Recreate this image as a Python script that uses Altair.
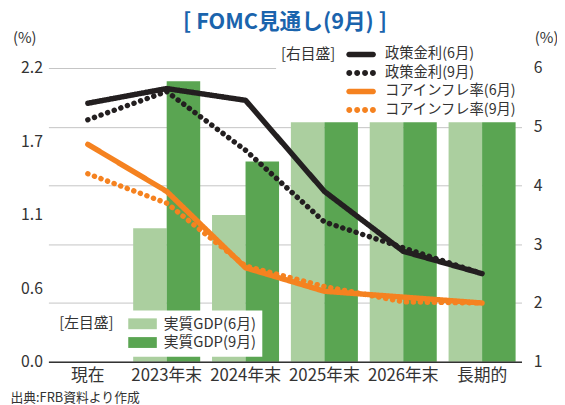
import altair as alt
import pandas as pd

categories = ["現在", "2023年末", "2024年末", "2025年末", "2026年末", "長期的"]

gdp_series = ["実質GDP(6月)", "実質GDP(9月)"]
gdp_jun = [None, 1.0, 1.1, 1.8, 1.8, 1.8]
gdp_sep = [None, 2.1, 1.5, 1.8, 1.8, 1.8]

line_series = ["政策金利(6月)", "政策金利(9月)", "コアインフレ率(6月)", "コアインフレ率(9月)"]
rate_jun = [5.4, 5.65, 5.45, 3.9, 2.88, 2.5]
rate_sep = [5.12, 5.6, 4.6, 3.38, 2.94, 2.5]
core_jun = [4.7, 3.9, 2.6, 2.2, 2.1, 2.0]
core_sep = [4.2, 3.7, 2.63, 2.28, 2.02, 2.0]

left_tick_values = [0, 0.55, 1.1, 1.65, 2.2]
left_tick_labels = ["0.0", "0.6", "1.1", "1.7", "2.2"]
right_tick_values = [1, 2, 3, 4, 5, 6]

BLACK = "#231f20"
ORANGE = "#f58220"
LIGHT_GREEN = "#abcf9f"
DARK_GREEN = "#5aa552"
TEXT = "#333333"
CLEAR = "transparent"
FONT = "Noto Sans CJK JP"

bar_rows = []
for s, vals in zip(gdp_series, [gdp_jun, gdp_sep]):
    for c, v in zip(categories, vals):
        if v is not None:
            bar_rows.append({"cat": c, "series": s, "value": v})
bar_df = pd.DataFrame(bar_rows)

line_rows = []
for s, vals in zip(line_series, [rate_jun, rate_sep, core_jun, core_sep]):
    for c, v in zip(categories, vals):
        line_rows.append({"cat": c, "series": s, "series_b": s, "value": v})
line_df = pd.DataFrame(line_rows)

label_expr = "''"
for v, lab in reversed(list(zip(left_tick_values, left_tick_labels))):
    label_expr = f"abs(datum.value - {v}) < 0.01 ? '{lab}' : ({label_expr})"


# ---- legend symbol shapes (units of r = sqrt(symbolSize)/2 = 6px) ----
def solid_path(h=0.458, x0=-1.0, x1=4.0):
    a, b = x0 + h, x1 - h
    return (f"M{a:.3f},{-h}H{b:.3f}A{h},{h} 0 0 1 {b:.3f},{h}"
            f"H{a:.3f}A{h},{h} 0 0 1 {a:.3f},{-h}Z")


def dots_path(n, r=0.5, x0=-1.0, x1=4.0):
    c0, c1 = x0 + r, x1 - r
    parts = []
    for i in range(n):
        c = c0 + (c1 - c0) * i / (n - 1)
        parts.append(f"M{c - r:.3f},0A{r},{r} 0 1 0 {c + r:.3f},0"
                     f"A{r},{r} 0 1 0 {c - r:.3f},0Z")
    return "".join(parts)


x_axis = alt.Axis(
    title="出典:FRB資料より作成", labelAngle=0, labelFontSize=17, labelColor=TEXT,
    labelPadding=6, ticks=False, domainColor=TEXT, domainWidth=1.5,
    titleX=-39, titleY=36, titleAlign="left", titleBaseline="middle",
    titleFontSize=13, titleFontWeight="normal", titleColor=TEXT, zindex=1,
)

bars = alt.Chart(bar_df).mark_bar().encode(
    x=alt.X("cat:N", sort=categories,
            scale=alt.Scale(paddingInner=0.15, paddingOuter=0.075), axis=x_axis),
    xOffset=alt.XOffset("series:N", sort=gdp_series,
                        scale=alt.Scale(paddingInner=0, paddingOuter=0)),
    y=alt.Y("value:Q", scale=alt.Scale(domain=[0, 2.2], nice=False, zero=True),
            axis=alt.Axis(orient="left", values=left_tick_values, labelExpr=label_expr,
                          grid=False, ticks=False, domain=False, labelFontSize=16,
                          labelColor=TEXT, labelPadding=6, title="(%)", titleAngle=0,
                          titleX=-24.5, titleY=-31, titleAlign="center",
                          titleBaseline="middle", titleFontSize=15,
                          titleFontWeight="normal", titleColor=TEXT)),
    color=alt.Color("series:N", sort=gdp_series,
                    scale=alt.Scale(domain=gdp_series, range=[LIGHT_GREEN, DARK_GREEN]),
                    legend=alt.Legend(
                        title="[左目盛]", orient="none", legendX=5, legendY=246,
                        titleOrient="left", titleAnchor="start", titleFontSize=15,
                        titleFontWeight="normal", titleColor=TEXT, titlePadding=12,
                        labelFontSize=15, labelColor=TEXT, labelOffset=23,
                        symbolType="M-1,-1H4.27V1H-1Z", symbolSize=121,
                        symbolStrokeWidth=0, symbolOpacity=1, fillColor="white",
                        padding=6, rowPadding=3)),
)

y_right = alt.Y("value:Q", scale=alt.Scale(domain=[1, 6], nice=False, zero=False),
                axis=alt.Axis(orient="right", values=right_tick_values, format="d",
                              grid=True, gridColor="#c4c4c4", gridWidth=1, ticks=False,
                              domain=False, labelFontSize=16, labelColor=TEXT,
                              labelPadding=12, title="(%)", titleAngle=0, titleX=25,
                              titleY=-31, titleAlign="center", titleBaseline="middle",
                              titleFontSize=15, titleFontWeight="normal", titleColor=TEXT))

lines = alt.Chart(line_df).mark_line(strokeCap="round", strokeJoin="round").encode(
    x=alt.X("cat:N", sort=categories),
    y=y_right,
    stroke=alt.Stroke("series:N", sort=line_series,
                      scale=alt.Scale(domain=line_series, range=[BLACK, BLACK, ORANGE, ORANGE]),
                      legend=None),
    strokeDash=alt.StrokeDash("series:N", sort=line_series,
                              scale=alt.Scale(domain=line_series,
                                              range=[[1, 0], [0.1, 7], [1, 0], [0.1, 7]]),
                              legend=None),
    strokeWidth=alt.StrokeWidth("series:N", sort=line_series,
                                scale=alt.Scale(domain=line_series, range=[5.5, 5.5, 4.5, 4.5]),
                                legend=None),
    order=alt.Order("series:N"),
)

legend_common = dict(
    title="[右目盛]", orient="none", legendX=231, legendY=-26,
    titleOrient="left", titleAnchor="start", titleFontSize=15,
    titleFontWeight="normal", titleColor=TEXT, titlePadding=9,
    labelFontSize=14.5, labelColor=TEXT, labelOffset=26,
    symbolSize=144, symbolStrokeWidth=0, symbolOpacity=1,
    padding=5, rowPadding=3.8,
)

# legend for the solid-line series (drawn underneath, with white box)
legend_solid = alt.Chart(line_df).mark_point(filled=True, opacity=0).encode(
    x=alt.X("cat:N", sort=categories),
    y=y_right,
    color=alt.Color("series:N", sort=line_series,
                    scale=alt.Scale(domain=line_series, range=[BLACK, CLEAR, ORANGE, CLEAR]),
                    legend=alt.Legend(symbolType=solid_path(), fillColor="white",
                                      zindex=1, **legend_common)),
)

# overlay legend for the dotted series (same layout, only dot symbols visible)
legend_dots = alt.Chart(line_df).mark_point(filled=True, opacity=0).encode(
    x=alt.X("cat:N", sort=categories),
    y=y_right,
    fill=alt.Fill("series_b:N", sort=line_series,
                  scale=alt.Scale(range=[CLEAR, BLACK, CLEAR, ORANGE]),
                  legend=alt.Legend(symbolType=dots_path(4, r=0.5), labelOpacity=0,
                                    titleOpacity=0, zindex=2, **legend_common)),
)

right_layer = alt.layer(lines, legend_solid, legend_dots)

chart = alt.layer(bars, right_layer).resolve_scale(
    y="independent", color="independent"
).resolve_legend(color="independent").properties(
    width=480, height=298,
    autosize=alt.AutoSizeParams(type="none"),
    padding={"left": 41, "top": 58, "right": 36, "bottom": 41},
    title=alt.Title("[ FOMC見通し(9月) ]", fontSize=22, fontWeight="bold",
                    color="#1a64ad", anchor="middle", offset=-3, font=FONT),
).configure(font=FONT).configure_view(stroke=None)

chart.save("out.html", embed_options={"renderer": "svg", "actions": False})
